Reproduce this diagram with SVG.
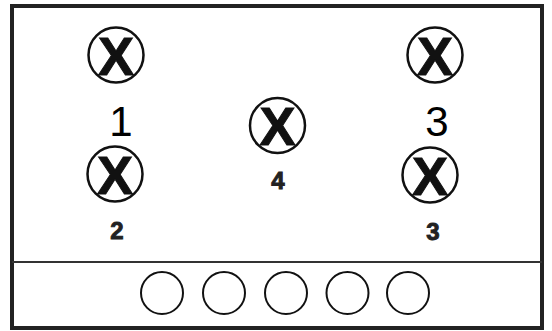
<svg xmlns="http://www.w3.org/2000/svg" width="552" height="331" viewBox="0 0 552 331">
<style>
.frame{fill:#fff;stroke:#222;stroke-width:4}
.div{stroke:#333;stroke-width:2}
.lamp circle{fill:#fff;stroke:#111;stroke-width:2.5}
.lamp text{font-family:"Liberation Sans",Arial,sans-serif;font-weight:bold;font-size:54px;fill:#111;stroke:#111;stroke-width:1;text-anchor:middle}
.lbl{font-family:"Liberation Sans",Arial,sans-serif;font-size:42px;fill:#000;text-anchor:middle}
.blbl{font-family:"Liberation Sans",Arial,sans-serif;font-weight:bold;font-size:24px;fill:#222;stroke:#222;stroke-width:0.9;text-anchor:middle}
.led{fill:none;stroke:#111;stroke-width:2}
</style>
<rect width="552" height="331" fill="#fff"/>
<rect class="frame" x="12" y="6" width="530" height="322"/>
<line class="div" x1="12" y1="262" x2="542" y2="262"/>
<g id="connectors"></g>
<g id="lamp1" class="lamp"><circle cx="116" cy="55" r="27.5"/><text x="116" y="74.5">X</text></g>
<g id="lamp3a" class="lamp"><circle cx="435" cy="55" r="27.5"/><text x="435" y="74.5">X</text></g>
<g id="lamp4" class="lamp"><circle cx="277.5" cy="125.5" r="27.5"/><text x="277.5" y="145">X</text></g>
<g id="lamp2" class="lamp"><circle cx="115" cy="174" r="27.5"/><text x="115" y="193.5">X</text></g>
<g id="lamp3b" class="lamp"><circle cx="430" cy="175" r="27.5"/><text x="430" y="194.5">X</text></g>
<g id="labels">
<text class="lbl" x="121" y="136">1</text>
<text class="lbl" x="437" y="136">3</text>
<text class="blbl" x="117" y="239">2</text>
<text class="blbl" x="433" y="240">3</text>
<text class="blbl" x="278" y="189">4</text>
</g>
<g id="leds">
<circle class="led" cx="162" cy="293" r="21"/>
<circle class="led" cx="224" cy="293" r="21"/>
<circle class="led" cx="286" cy="293" r="21"/>
<circle class="led" cx="347.5" cy="293" r="21"/>
<circle class="led" cx="408" cy="293" r="21"/>
</g>
</svg>
